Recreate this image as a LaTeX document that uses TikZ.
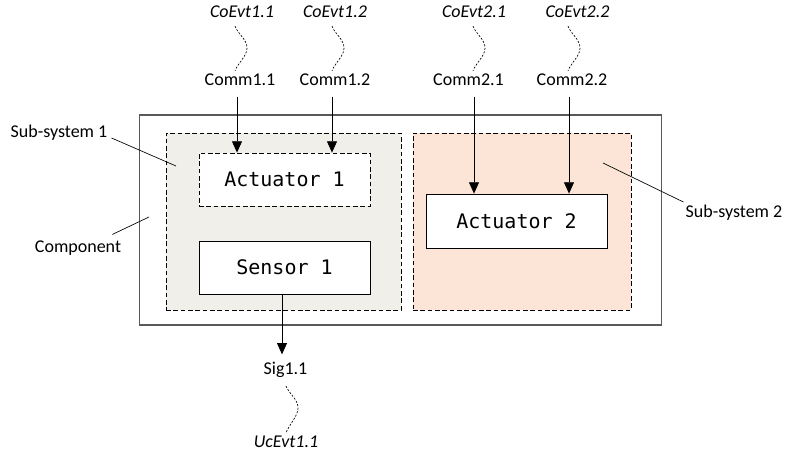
\documentclass[tikz,border=0pt]{standalone}
\usepackage{fontspec}
\setmainfont{Carlito}
\newfontfamily\boxfont{DejaVu Sans Mono}
\usepackage{tikz}
\usepackage{xcolor}
\usetikzlibrary{arrows.meta}

\definecolor{subgray}{RGB}{240,239,234}
\definecolor{subpeach}{RGB}{252,229,214}

\tikzset{
  lbl/.style={inner sep=0.75pt,font=\fontsize{13.5}{15}\selectfont},
  evt/.style={lbl,font=\fontsize{13.5}{15}\selectfont\itshape},
  subbox/.style={draw,dash pattern=on 3.5pt off 2pt,line width=0.6pt,minimum width=#1},
  unitbox/.style={draw,fill=white,line width=0.6pt,font=\boxfont\fontsize{15}{17}\selectfont,minimum height=39.75pt},
  arr/.style={-{Triangle[width=7.5pt,length=8.5pt]},line width=0.6pt},
  squig/.style={dash pattern=on 1.5pt off 1.2pt,line width=0.5pt},
  lead/.style={line width=0.5pt}
}

\begin{document}
\begin{tikzpicture}[x=0.75pt,y=0.75pt,yscale=-1,xscale=1]
\useasboundingbox (0,0) rectangle (788,457);
%Shape: Rectangle [component]
\node [draw=black!65,line width=0.8pt,minimum width=392pt,minimum height=157.5pt] (comp) at (400.5,220) {};
%Shape: Rectangle [sub-systems]
\node [subbox=176.25pt,fill=subgray,minimum height=132.75pt] (sub1) at (283.5,221.5) {};
\node [subbox=163.5pt,fill=subpeach,minimum height=132.75pt] (sub2) at (522,221.5) {};
%Shape: Rectangle [units]
\node [unitbox,dash pattern=on 3.5pt off 2pt,minimum width=128.25pt] (act1) at (284.5,179.5) {Actuator 1};
\node [unitbox,minimum width=128.25pt] (sen1) at (284.5,267.5) {Sensor 1};
\node [unitbox,minimum width=135.75pt,minimum height=40.5pt] (act2) at (516.5,221) {Actuator 2};

% Text Node
\node [lbl] (comm11) at (240,80) {Comm1.1};
\node [lbl] (comm12) at (335,80) {Comm1.2};
\node [lbl] (comm21) at (468.5,80) {Comm2.1};
\node [lbl] (comm22) at (572,80) {Comm2.2};
\node [evt] (coevt11) at (242,12) {CoEvt1.1};
\node [evt] (coevt12) at (335,12) {CoEvt1.2};
\node [evt] (coevt21) at (474,12) {CoEvt2.1};
\node [evt] (coevt22) at (577.5,12) {CoEvt2.2};
\node [lbl] (sig11) at (285.5,370) {Sig1.1};
\node [evt] (ucevt11) at (286,442) {UcEvt1.1};
\node [lbl] (sub1lbl) at (59,133) {Sub-system 1};
\node [lbl] (complbl) at (78,248) {Component};
\node [lbl] (sub2lbl) at (734,213) {Sub-system 2};

% link lines
\coordinate (l11) at (237,0);
\coordinate (l12) at (332,0);
\coordinate (l21) at (474,0);
\coordinate (l22) at (569,0);
\coordinate (ls11) at (282,0);

%Straight Lines [arrows]
\foreach \l/\c/\u in {l11/comm11/act1,l12/comm12/act1,l21/comm21/act2,l22/comm22/act2}{
  \draw [arr] ([yshift=7]\l |- \c.south) -- (\l |- \u.north);
}
\draw [arr] (ls11 |- sen1.south) -- ([yshift=-5]ls11 |- sig11.north);

%Curve Lines [event links]
\foreach \l/\e/\c/\dx in {l11/coevt11/comm11/-2,l12/coevt12/comm12/0,l21/coevt21/comm21/-1,l22/coevt22/comm22/-1,ls11/sig11/ucevt11/4}{
  \draw [squig] ([shift={(\dx,7)}]\l |- \e.south) .. controls +(3,8) and +(0,-9) .. ++(12,22)
    .. controls +(0,8) and +(3,-8) .. ([shift={(\dx,-2)}]\l |- \c.north);
}

%Straight Lines [leaders]
\coordinate (sub1pt) at (176,166);
\coordinate (comppt) at (149,217);
\coordinate (sub2pt) at (603,163);
\draw [lead] ([shift={(3,5)}]sub1lbl.east) -- (sub1pt);
\draw [lead] ([shift={(-10,-5)}]complbl.north east) -- (comppt);
\draw [lead] ([shift={(-1,-2)}]sub2lbl.north west) -- (sub2pt);
\end{tikzpicture}
\end{document}
